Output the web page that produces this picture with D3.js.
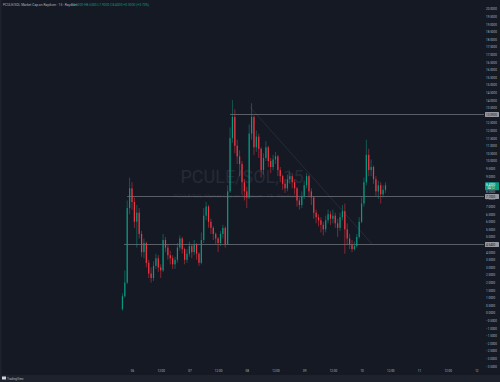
<!DOCTYPE html>
<html>
<head>
<meta charset="utf-8">
<title>PCULE/SOL, 15</title>
<script src="https://cdn.jsdelivr.net/npm/d3@7"></script>
<style>
body, html {
  margin: 0;
  width: 100%;
  height: 100%;
  background: #151924;
}
svg { display: block; }
text { font-family: Roboto, "Noto Sans", sans-serif; }
</style>
</head>
<body>
<svg id="chart" width="500" height="382"></svg>
<script>
// hourly candles, first one opens 05 Nov 20:00 (UTC)
var firstOpen = 0.25;
var closes = [1.1, 2.0, 6.9, 8.2, 7.3, 6.0, 6.6, 5.2, 4.0, 4.6,
  3.3, 2.6, 2.3, 3.1, 3.6, 3.0, 2.8, 4.8, 4.3, 3.8,
  3.6, 3.2, 3.5, 4.3, 4.9, 4.2, 3.5, 3.9, 4.4, 4.0,
  4.5, 3.9, 3.3, 4.8, 6.4, 7.0, 6.0, 5.6, 5.2, 4.9,
  4.6, 5.2, 5.6, 4.5, 8.0, 11.5, 12.9, 11.0, 10.3, 9.8,
  8.6, 8.0, 7.6, 11.8, 12.9, 10.9, 11.6, 10.8, 9.4, 10.2,
  10.9, 10.0, 9.6, 10.1, 10.3, 9.4, 9.0, 8.5, 8.2, 8.8,
  9.0, 8.6, 8.2, 7.4, 7.1, 7.7, 8.4, 9.0, 8.0, 7.6,
  6.6, 6.3, 6.1, 5.8, 5.5, 6.1, 6.5, 6.2, 6.4, 5.9,
  5.6, 6.3, 6.7, 5.5, 4.9, 4.5, 4.2, 4.4, 5.0, 6.0,
  7.2, 8.6, 10.4, 9.4, 9.6, 8.8, 8.0, 8.4, 7.8, 8.1, 8.4];
var highs = [1.3, 2.8, 7.4, 8.9, 8.6, 7.6, 7.1, 6.9, 5.4, 4.9,
  4.7, 3.5, 3.0, 3.4, 3.9, 3.8, 3.2, 5.2, 5.0, 4.5,
  4.1, 3.8, 3.7, 4.6, 5.1, 5.0, 4.3, 4.2, 4.7, 4.5,
  4.8, 4.6, 4.0, 5.3, 6.9, 7.3, 7.1, 6.2, 5.7, 5.3,
  5.0, 5.4, 5.8, 5.7, 8.4, 12.2, 14.0, 13.4, 11.4, 10.7,
  10.0, 8.8, 8.3, 12.4, 13.8, 13.0, 12.0, 11.8, 10.9, 10.5,
  11.3, 11.0, 10.2, 10.4, 10.6, 10.4, 9.6, 9.1, 8.8, 9.1,
  9.3, 9.2, 8.8, 8.3, 7.6, 8.0, 8.7, 9.2, 9.1, 8.2,
  7.7, 6.8, 6.5, 6.3, 6.0, 6.4, 6.8, 6.7, 6.8, 6.6,
  6.2, 6.6, 7.1, 7.2, 5.9, 5.2, 4.8, 4.7, 5.2, 6.3,
  7.6, 8.9, 11.4, 10.8, 10.1, 9.7, 9.0, 8.7, 8.6, 8.4, 8.6];
var lows = [0.15, 1.0, 1.9, 6.5, 6.8, 5.6, 4.3, 4.9, 3.7, 3.6,
  3.0, 2.3, 2.0, 2.1, 2.9, 2.7, 2.3, 2.7, 4.0, 3.5,
  3.2, 2.9, 2.9, 3.3, 4.1, 3.9, 3.2, 3.3, 3.7, 3.6,
  3.8, 3.5, 3.1, 3.2, 4.6, 6.1, 5.6, 5.2, 4.8, 4.5,
  4.0, 4.4, 4.9, 4.3, 4.5, 7.9, 11.2, 10.5, 9.8, 9.0,
  7.8, 7.4, 6.9, 7.5, 11.4, 10.4, 10.6, 10.2, 8.9, 9.1,
  10.0, 9.6, 9.2, 9.4, 9.8, 9.0, 8.6, 8.1, 7.9, 8.0,
  8.5, 8.2, 7.8, 7.0, 6.8, 6.9, 7.5, 8.2, 7.6, 7.1,
  6.2, 5.9, 5.7, 5.3, 5.1, 5.3, 5.9, 5.8, 5.9, 5.6,
  5.0, 5.4, 6.1, 3.9, 4.5, 4.2, 4.0, 4.1, 4.3, 4.9,
  5.9, 7.0, 8.4, 9.0, 9.0, 8.5, 7.7, 7.5, 7.2, 7.6, 7.9];

// horizontal levels drawn on the chart: price and start time
var levelPrices = [13.09, 7.70, 4.54];
var levelStarts = ["2024-11-07T17:00Z", "2024-11-05T22:00Z", "2024-11-05T20:40Z"];
// trend line
var trendPrices = [13.55, 4.54];
var trendTimes = ["2024-11-08T01:20Z", "2024-11-10T04:20Z"];

var yTicks = d3.range(-3.5, 20.01, 0.5);

var W = 500, H = 382;
var plotR = 484, plotB = 368;
var upCol = "#089981", downCol = "#f23645";

var svg = d3.select("#chart");
svg.append("rect").attr("width", W).attr("height", H).attr("fill", "#151924");

var t0 = new Date("2024-11-05T20:00Z");
var candles = closes.map(function(c, i) {
  return {
    t: d3.utcHour.offset(t0, i),
    o: i === 0 ? firstOpen : closes[i - 1],
    h: highs[i], l: lows[i], c: c
  };
});

// time scale: 28.7px per 12h, 6 Nov 00:00 at x=132
var x = d3.scaleUtc()
  .domain([new Date("2024-11-03T16:48Z"), new Date("2024-11-12T03:12Z")])
  .range([0, plotR]);
var y = d3.scaleLinear()
  .domain([-3.62, 20.59])
  .range([plotB, 0]);

// watermark
svg.append("text")
  .attr("x", 242).attr("y", 183)
  .attr("text-anchor", "middle")
  .attr("font-size", 18)
  .attr("fill", "#262a36")
  .text("PCULE/SOL, 15");
svg.append("text")
  .attr("x", 236).attr("y", 198)
  .attr("text-anchor", "middle")
  .attr("font-size", 5.5)
  .attr("fill", "#262a36")
  .text("PCULE/SOL Market Cap on Raydium · 15 · Raydium");

// trend line
svg.append("line")
  .attr("x1", x(new Date(trendTimes[0]))).attr("y1", y(trendPrices[0]))
  .attr("x2", x(new Date(trendTimes[1]))).attr("y2", y(trendPrices[1]))
  .attr("stroke", "#787b86").attr("stroke-opacity", 0.3).attr("stroke-width", 0.6);

// levels
svg.selectAll(".level")
  .data(levelPrices)
  .enter().append("line")
  .attr("class", "level")
  .attr("x1", function(d, i) { return x(new Date(levelStarts[i])); })
  .attr("x2", plotR)
  .attr("y1", function(d) { return Math.round(y(d)) + 0.5; })
  .attr("y2", function(d) { return Math.round(y(d)) + 0.5; })
  .attr("stroke", "#8a8d96").attr("stroke-opacity", 0.75).attr("stroke-width", 0.8);

// candles
var step = x(d3.utcHour.offset(t0, 1)) - x(t0);
var bw = step * 0.5;
var g = svg.append("g");
g.selectAll(".wick")
  .data(candles)
  .enter().append("line")
  .attr("x1", function(d) { return x(d.t); })
  .attr("x2", function(d) { return x(d.t); })
  .attr("y1", function(d) { return y(d.h); })
  .attr("y2", function(d) { return y(d.l); })
  .attr("stroke", function(d) { return d.c >= d.o ? upCol : downCol; })
  .attr("stroke-width", 0.5);
g.selectAll(".body")
  .data(candles)
  .enter().append("rect")
  .attr("x", function(d) { return x(d.t) - bw / 2; })
  .attr("width", bw)
  .attr("y", function(d) { return y(Math.max(d.o, d.c)); })
  .attr("height", function(d) { return Math.max(0.6, Math.abs(y(d.o) - y(d.c))); })
  .attr("fill", function(d) { return d.c >= d.o ? upCol : downCol; });

// right price axis
var yAxis = svg.append("g")
  .attr("transform", "translate(" + plotR + ",0)")
  .call(d3.axisRight(y).tickValues(yTicks).tickSize(0).tickPadding(2)
    .tickFormat(function(d) { return d3.format(".4f")(d); }));
yAxis.select(".domain").remove();
yAxis.selectAll("text").attr("fill", "#b2b5be").attr("font-size", 3)
  .attr("font-family", "Roboto, sans-serif");

// level labels on the axis
levelPrices.forEach(function(p) {
  var yy = Math.round(y(p)) + 0.5;
  svg.append("rect").attr("x", plotR + 1).attr("y", yy - 2.5).attr("width", 14).attr("height", 5)
    .attr("fill", "#9598a1").attr("rx", 0.5);
  svg.append("text").attr("x", plotR + 2).attr("y", yy + 1)
    .attr("font-size", 3).attr("fill", "#131722").text(d3.format(".4f")(p));
});

// last price label
var last = candles[candles.length - 1];
var ly = y(last.c);
svg.append("rect").attr("x", plotR + 1).attr("y", ly - 3).attr("width", 14).attr("height", 8)
  .attr("fill", upCol).attr("rx", 0.5);
svg.append("text").attr("x", plotR + 2).attr("y", ly + 0.6)
  .attr("font-size", 3).attr("fill", "#ffffff").text(d3.format(".4f")(last.c));
svg.append("text").attr("x", plotR + 3.5).attr("y", ly + 4)
  .attr("font-size", 2.8).attr("fill", "#ffffff").text("04:12");

// time axis, labelled only from the first bar onwards
var xTicks = x.ticks(d3.utcHour.every(12)).filter(function(d) { return d >= t0; });
var xAxis = svg.append("g")
  .attr("transform", "translate(0," + plotB + ")")
  .call(d3.axisBottom(x).tickValues(xTicks).tickSize(0).tickPadding(2)
    .tickFormat(function(d) {
      return d.getUTCHours() === 0 ? d3.utcFormat("%d")(d) : d3.utcFormat("%H:%M")(d);
    }));
xAxis.select(".domain").remove();
xAxis.selectAll("text").attr("fill", "#b2b5be").attr("font-size", 3)
  .attr("font-family", "Roboto, sans-serif");

// header legend
svg.append("text").attr("x", 3).attr("y", 6).attr("font-size", 3.3).attr("fill", "#b2b5be")
  .text("PCULE/SOL Market Cap on Raydium · 15 · Raydium");
var lo = last;
svg.append("text").attr("x", 71).attr("y", 6).attr("font-size", 3.3).attr("fill", upCol)
  .text("O" + lo.o.toFixed(4) + " H" + lo.h.toFixed(4) + " L" + lo.l.toFixed(4) +
    " C" + lo.c.toFixed(4) + " +" + (lo.c - lo.o).toFixed(4) +
    " (+" + ((lo.c - lo.o) / lo.o * 100).toFixed(2) + "%)");

// footer
svg.append("rect").attr("x", 0).attr("y", 375).attr("width", W).attr("height", 7).attr("fill", "#1e222d");
svg.append("rect").attr("x", 0).attr("y", 0).attr("width", 1.5).attr("height", 375).attr("fill", "#1e222d");
svg.append("rect").attr("x", 2).attr("y", 376.5).attr("width", 4).attr("height", 3).attr("fill", "#d1d4dc");
svg.append("text").attr("x", 7).attr("y", 379.5).attr("font-size", 3).attr("fill", "#b2b5be")
  .text("TradingView");
</script>
</body>
</html>
